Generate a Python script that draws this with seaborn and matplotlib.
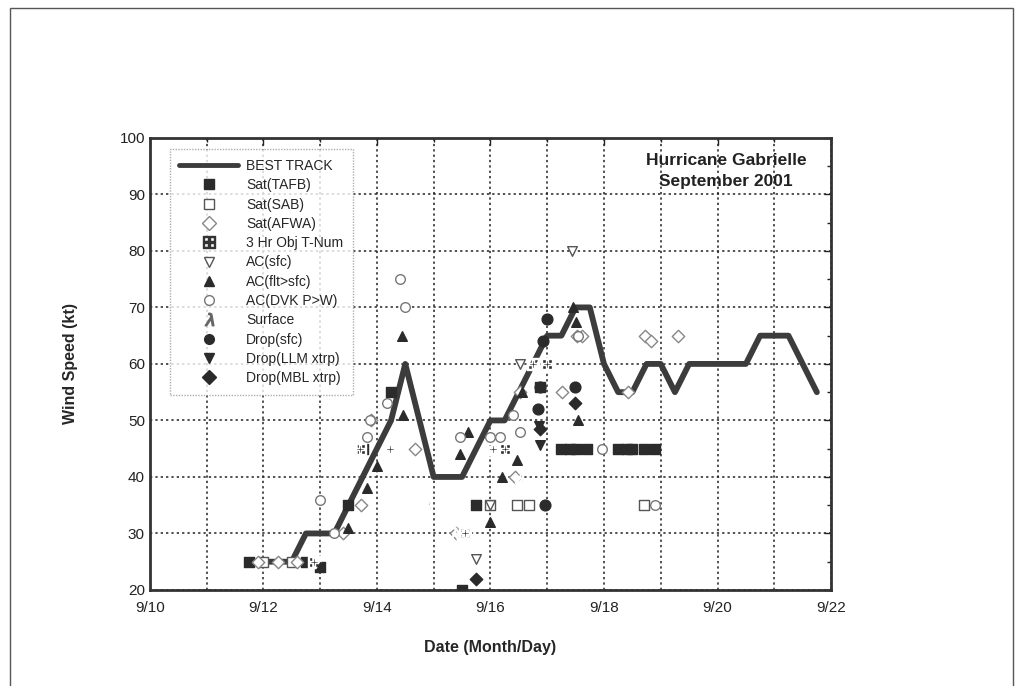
import matplotlib
matplotlib.use("Agg")
import matplotlib.pyplot as plt
import seaborn as sns
import pandas as pd
from matplotlib.lines import Line2D
from matplotlib.patches import Rectangle
from matplotlib.ticker import MultipleLocator

# ---- data (day of September 2001, wind speed kt) ----
bt_day = [11.75, 12.0, 12.25, 12.5, 12.75, 13.0, 13.25, 13.5, 13.75, 14.0, 14.25, 14.5, 14.75,
          15.0, 15.25, 15.5, 15.75, 16.0, 16.25, 16.5, 16.75, 17.0, 17.25, 17.5, 17.75, 18.0,
          18.25, 18.5, 18.75, 19.0, 19.25, 19.5, 19.75, 20.0, 20.25, 20.5, 20.75, 21.0, 21.25,
          21.5, 21.75]
bt_wind = [25, 25, 25, 25, 30, 30, 30, 35, 40, 45, 50, 60, 50,
           40, 40, 40, 45, 50, 50, 55, 60, 65, 65, 70, 70, 60,
           55, 55, 60, 60, 55, 60, 60, 60, 60, 60, 65, 65, 65,
           60, 55]

tafb_day = [11.75, 12.75, 13.0, 13.5, 13.75, 14.25, 15.5, 15.75, 16.25, 16.87, 17.0,
            17.25, 17.4, 17.5, 17.7, 18.25, 18.4, 18.5, 18.7, 18.9]
tafb_wind = [25, 25, 24, 35, 45, 55, 20, 35, 45, 56, 60,
             45, 45, 45, 45, 45, 45, 45, 45, 45]

sab_day = [12.0, 12.5, 15.55, 16.0, 16.47, 16.68, 18.7]
sab_wind = [25, 25, 30, 35, 35, 35, 35]

afwa_day = [11.9, 12.25, 12.6, 13.4, 13.72, 13.9, 14.67, 15.4, 16.43, 16.52, 17.26, 17.52,
            17.62, 18.42, 18.72, 18.82, 19.3]
afwa_wind = [25, 25, 25, 30, 35, 50, 45, 30, 40, 55, 55, 65,
             65, 55, 65, 64, 65]

obj_day = [12.9, 13.7, 14.23, 15.55, 16.05, 16.26, 16.75, 17.0]
obj_wind = [25, 45, 45, 30, 45, 45, 60, 60]

acsfc_day = [15.75, 16.52, 17.43, 16.0]
acsfc_wind = [25.5, 60, 80, 35]

acflt_day = [13.0, 13.5, 13.82, 14.0, 14.45, 14.46, 15.46, 15.6, 16.0, 16.2, 16.46, 16.55,
             17.45, 17.5, 17.55]
acflt_wind = [24, 31, 38, 42, 65, 51, 44, 48, 32, 40, 43, 55,
              70, 67.5, 50]

dvk_day = [13.0, 13.25, 13.82, 13.88, 14.17, 14.4, 14.5, 15.46, 16.0, 16.17, 16.4, 16.52,
           17.55, 17.96, 18.9]
dvk_wind = [36, 30, 47, 50, 53, 75, 70, 47, 47, 47, 51, 48,
            65, 45, 35]

sfc_day = [14.88, 15.35, 16.5]
sfc_wind = [35, 30, 40]

dsfc_day = [16.84, 16.87, 16.93, 16.96, 17.0, 17.49]
dsfc_wind = [52, 56, 64, 35, 68, 56]

llm_day = [16.87, 16.85]
llm_wind = [45.6, 49]

mbl_day = [15.75, 16.87, 17.49]
mbl_wind = [22, 48.5, 53]

x_ticks = [10, 12, 14, 16, 18, 20, 22]
x_labels = ["9/10", "9/12", "9/14", "9/16", "9/18", "9/20", "9/22"]

# ---- figure ----
sns.set_theme(style="white")
plt.rcParams["font.family"] = ["Liberation Sans", "DejaVu Sans"]

fig = plt.figure(figsize=(10.26, 6.86), dpi=100)
ax = fig.add_axes([0.146, 0.140, 0.664, 0.659])

# outer frame of the figure
fig.patches.append(Rectangle((0.0097, -0.01), 0.978, 0.998, transform=fig.transFigure,
                             fill=False, edgecolor="#555555", linewidth=1.0))

dark = "#2b2b2b"
ms = 48

sns.lineplot(x=bt_day, y=bt_wind, ax=ax, color="#3c3c3c", linewidth=4.2, zorder=3,
             sort=False, estimator=None)

series = [
    ("Sat(TAFB)", tafb_day, tafb_wind, dict(marker="s", color=dark, edgecolor=dark), ms),
    ("Sat(SAB)", sab_day, sab_wind, dict(marker="s", facecolor="white", edgecolor="#555555"), ms),
    ("Sat(AFWA)", afwa_day, afwa_wind, dict(marker="D", facecolor="white", edgecolor="#888888"), 40),
    ("3 Hr Obj T-Num", obj_day, obj_wind, dict(marker=r"$\boxplus$", color="#333333"), 80),
    ("AC(sfc)", acsfc_day, acsfc_wind, dict(marker="v", facecolor="white", edgecolor="#555555"), ms),
    ("AC(flt>sfc)", acflt_day, acflt_wind, dict(marker="^", color=dark, edgecolor=dark), ms),
    ("AC(DVK P>W)", dvk_day, dvk_wind, dict(marker="o", facecolor="white", edgecolor="#777777"), ms),
    ("Surface", sfc_day, sfc_wind, dict(marker=r"$\lambda$", color="#666666"), 70),
    ("Drop(sfc)", dsfc_day, dsfc_wind, dict(marker="o", color=dark, edgecolor=dark), 60),
    ("Drop(LLM xtrp)", llm_day, llm_wind, dict(marker="v", color=dark, edgecolor=dark), ms),
    ("Drop(MBL xtrp)", mbl_day, mbl_wind, dict(marker="D", color=dark, edgecolor=dark), 40),
]

for name, xd, yd, kw, size in series:
    sns.scatterplot(x=xd, y=yd, ax=ax, s=size, linewidth=1.0, zorder=4, legend=False, **kw)

ax.set_xlim(10, 22)
ax.set_ylim(20, 100)
ax.set_xticks(x_ticks)
ax.set_xticklabels(x_labels)
ax.xaxis.set_minor_locator(MultipleLocator(1))
ax.yaxis.set_major_locator(MultipleLocator(10))
ax.yaxis.set_minor_locator(MultipleLocator(5))
ax.tick_params(axis="both", which="both", direction="in", top=True, right=True,
               labelsize=11, colors="#222222")
ax.tick_params(axis="both", which="major", length=5, width=1)
ax.tick_params(axis="both", which="minor", length=3, width=1)
ax.tick_params(axis="x", which="major", pad=8)

ax.grid(True, which="major", axis="y", color="#222222", linestyle=(0, (1.5, 2)), linewidth=1.1)
ax.grid(True, which="both", axis="x", color="#222222", linestyle=(0, (1.5, 2)), linewidth=1.1)
for sp in ax.spines.values():
    sp.set_visible(True)
    sp.set_color("#333333")
    sp.set_linewidth(2.0)

ax.set_xlabel("Date (Month/Day)", fontsize=11.5, fontweight="bold", labelpad=18)
ax.set_ylabel("Wind Speed (kt)", fontsize=11.5, fontweight="bold", labelpad=30)

ax.text(0.846, 0.951, "Hurricane Gabrielle", transform=ax.transAxes, ha="center", va="center",
        fontsize=12.5, fontweight="bold", color="#222222")
ax.text(0.846, 0.903, "September 2001", transform=ax.transAxes, ha="center", va="center",
        fontsize=12.5, fontweight="bold", color="#222222")

handles = [Line2D([0], [0], color="#3c3c3c", linewidth=3.5, label="BEST TRACK")]
for name, xd, yd, kw, size in series:
    fc = kw.get("facecolor", kw.get("color"))
    ec = kw.get("edgecolor", kw.get("color"))
    handles.append(Line2D([0], [0], linestyle="none", marker=kw["marker"],
                          markersize=9 if kw["marker"].startswith("$") else 7,
                          markerfacecolor=fc, markeredgecolor=ec, label=name))
leg = ax.legend(handles=handles, loc="upper left", bbox_to_anchor=(0.019, 0.99),
                fontsize=10, frameon=True, fancybox=False, handlelength=4.2,
                labelspacing=0.38, borderpad=0.7, handletextpad=0.6)
leg.get_frame().set_edgecolor("#999999")
leg.get_frame().set_linestyle((0, (1, 1)))
leg.get_frame().set_linewidth(1.0)
leg.set_zorder(6)

fig.savefig("out.png", dpi=100)
